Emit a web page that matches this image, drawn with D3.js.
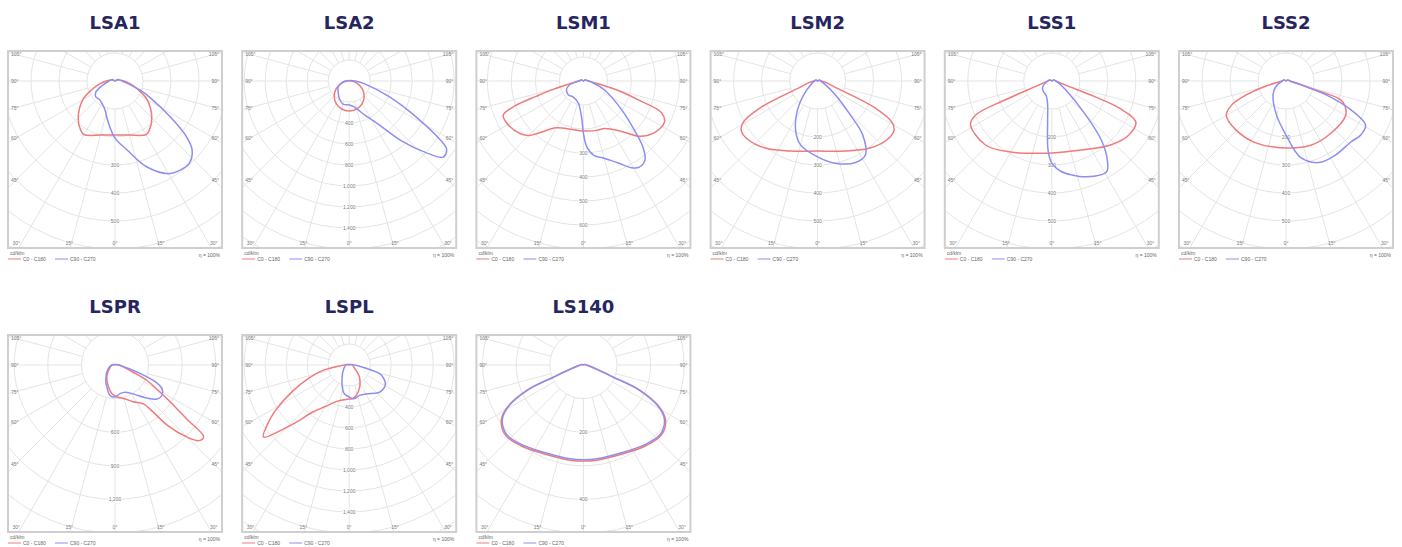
<!DOCTYPE html>
<html><head><meta charset="utf-8">
<script src="https://cdn.jsdelivr.net/npm/d3@7"></script>
<style>body{margin:0;background:#fff}</style>
</head><body><svg id="c" width="1402" height="547"></svg>
<script>
// ---------- data ----------
const chartNames = ["LSA1","LSA2","LSM1","LSM2","LSS1","LSS2","LSPR","LSPL","LS140"];
const maxValues  = [600,1600,700,600,600,600,1500,1600,500];
const ringSteps  = [100,200,100,100,100,100,300,200,100];
const valueLabels = [
  [300,400,500],
  [400,600,800,1000,1200,1400],
  [300,400,500,600],
  [200,300,400,500],
  [200,300,400,500],
  [200,300,400,500],
  [600,900,1200],
  [400,600,800,1000,1200,1400],
  [200,400]
];
const sideAngles = [105,90,75,60,45];
const bottomAngles = [-30,-15,0,15,30];
const legendNames = ["C0 - C180","C90 - C270"];
const unitLabel = "cd/klm";
const effLabel = "\u03b7 = 100%";

// [gamma angle (deg, 0 = down, + = right), intensity cd/klm]
const lsa1C0 = [[-180,0],[-120,7],[-100,18],[-90,32],[-80,54],[-70,86],[-60,132],[-45,186],[-35,214],[-30,221],[-15,200],[0,193],[15,200],[30,221],[35,214],[45,186],[60,132],[70,86],[80,54],[90,32],[100,18],[120,7]];
const lsa1C90 = [[-180,0],[-120,11],[-90,21],[-70,50],[-60,79],[-50,89],[-40,86],[-30,93],[-20,107],[-10,146],[0,204],[10,250],[20,325],[30,382],[35,393],[42,396],[48,371],[52,325],[57,236],[65,136],[70,96],[80,43],[90,25],[120,11]];
const lsa2C0 = [[-180,0],[-120,2],[-90,19],[-75,74],[-60,143],[-45,202],[-30,248],[-15,276],[0,286],[15,276],[30,248],[45,202],[60,143],[75,74],[90,19],[120,2]];
const lsa2C90 = [[-180,0],[-120,10],[-90,38],[-70,95],[-60,124],[-45,148],[-30,190],[-15,228],[0,228],[10,248],[17,286],[25,362],[33,476],[41,752],[47,1000],[51,1152],[55,1133],[58,971],[63,657],[67,476],[71,324],[80,143],[90,57],[120,10]];
const lsm1C0 = [[-180,0],[-120,8],[-90,21],[-78,63],[-74,146],[-72,208],[-70,304],[-67,363],[-60,363],[-50,342],[-45,321],[-41,288],[-30,225],[-15,208],[0,208],[15,213],[24,217],[37,263],[45,325],[53,363],[63,379],[68,350],[71,242],[74,167],[76,121],[80,58],[90,21],[120,8]];
const lsm1C90 = [[-180,0],[-120,8],[-90,17],[-74,61],[-62,80],[-47,85],[-32,79],[-13,94],[-3,150],[0,217],[3,275],[8,313],[15,333],[23,371],[29,413],[33,428],[38,417],[42,371],[46,296],[53,200],[67,96],[83,33],[90,21],[120,8]];
const lsm2C0 = [[-180,0],[-120,7],[-90,14],[-80,29],[-70,71],[-67,143],[-65,225],[-61,304],[-57,325],[-50,325],[-38,304],[-21,268],[0,250],[21,268],[38,304],[50,325],[57,325],[61,304],[65,225],[67,143],[70,71],[80,29],[90,14],[120,7]];
const lsm2C90 = [[-180,0],[-120,5],[-90,11],[-60,29],[-45,71],[-35,125],[-24,193],[-15,236],[0,271],[12,300],[25,321],[33,314],[40,250],[44,168],[52,82],[65,29],[90,11],[120,5]];
const lss1C0 = [[-180,0],[-120,7],[-90,14],[-72,54],[-68,179],[-66,296],[-62,329],[-46,329],[-30,293],[-9,261],[0,257],[23,268],[43,311],[55,336],[64,334],[68,264],[70,161],[73,54],[90,14],[120,7]];
const lss1C90 = [[-180,0],[-120,7],[-90,14],[-60,36],[-45,46],[-20,57],[-10,86],[-6,143],[-3,250],[0,293],[6,325],[12,343],[20,364],[31,379],[35,346],[40,275],[45,171],[57,61],[70,29],[90,14],[120,7]];
const lss2C0 = [[-180,0],[-120,7],[-90,14],[-76,71],[-70,161],[-66,214],[-60,246],[-46,250],[-26,246],[0,239],[21,246],[41,246],[60,246],[67,229],[71,207],[74,93],[80,36],[90,14],[120,7]];
const lss2C90 = [[-180,0],[-120,7],[-90,14],[-60,43],[-43,68],[-16,125],[0,193],[11,279],[22,314],[34,318],[47,318],[54,329],[61,325],[66,254],[71,150],[75,57],[90,14],[120,7]];
const lsprC0 = [[-180,0],[-120,9],[-90,27],[-68,45],[-36,125],[-18,196],[-6,259],[4,286],[16,313],[26,366],[36,429],[39,536],[41,714],[45,911],[48,1009],[51,1018],[53,804],[57,554],[60,429],[64,321],[68,179],[75,89],[90,36],[120,9]];
const lsprC90 = [[-180,0],[-120,9],[-90,27],[-60,71],[-33,152],[-18,223],[-9,277],[0,286],[10,259],[20,259],[32,304],[44,411],[51,482],[57,500],[63,473],[67,402],[70,286],[74,161],[80,71],[90,36],[120,9]];
const lsplC0 = [[-180,0],[-120,10],[-90,48],[-78,267],[-72,400],[-65,600],[-58,838],[-54,962],[-50,1067],[-46,886],[-42,714],[-38,571],[-30,457],[-18,362],[0,324],[5,324],[19,267],[40,152],[60,57],[90,29],[120,10]];
const lsplC90 = [[-180,0],[-120,10],[-90,29],[-60,57],[-27,152],[-10,276],[0,305],[8,324],[20,305],[32,324],[49,390],[62,390],[70,343],[74,305],[81,124],[90,48],[120,10]];
const ls140C0 = [[-180,0],[-120,3],[-90,9],[-80,18],[-72,45],[-68,95],[-66,182],[-61,259],[-56,295],[-48,312],[-38,304],[-24,289],[-8,286],[0,286],[8,286],[24,289],[38,304],[48,312],[56,295],[61,259],[66,182],[68,95],[72,45],[80,18],[90,9],[120,3]];
const ls140C90 = [[-180,0],[-120,3],[-90,9],[-80,17],[-72,43],[-68,92],[-66,178],[-61,255],[-56,291],[-48,308],[-38,300],[-24,285],[-8,282],[0,282],[8,282],[24,285],[38,300],[48,308],[56,291],[61,255],[66,178],[68,92],[72,43],[80,17],[90,9],[120,3]];

const c0Series  = [lsa1C0,lsa2C0,lsm1C0,lsm2C0,lss1C0,lss2C0,lsprC0,lsplC0,ls140C0];
const c90Series = [lsa1C90,lsa2C90,lsm1C90,lsm2C90,lss1C90,lss2C90,lsprC90,lsplC90,ls140C90];

// ---------- layout ----------
const boxW = 214, boxH = 197, colStep = 234.2, firstLeft = 8;
const rowTops = [51, 335];
const R = 168;             // pixel radius of maxValue
const centerDrop = 30;     // center below box top
const colors = {c0: "#f07a7a", c90: "#8e8ef2", grid: "#e4e4e4", frame: "#cfcfcf", tick: "#7a7a7a", title: "#27255f"};
const rad = d => d * Math.PI / 180;

const svg = d3.select("#c");
svg.append("rect").attr("width",1402).attr("height",547).attr("fill","#fff");

chartNames.forEach((name, i) => {
  const row = i < 6 ? 0 : 1, col = i < 6 ? i : i - 6;
  const left = firstLeft + col * colStep, top = rowTops[row];
  const cx = left + boxW / 2, cy = top + centerDrop;
  const rScale = d3.scaleLinear().domain([0, maxValues[i]]).range([0, R]);
  const g = svg.append("g");

  g.append("text").attr("x", cx).attr("y", top - 22)
    .attr("text-anchor","middle").attr("font-family","DejaVu Sans").attr("font-weight","bold")
    .attr("font-size",18).attr("fill",colors.title).text(name);

  const clipId = "clip" + i;
  svg.append("clipPath").attr("id", clipId).append("rect")
    .attr("x", left + 1).attr("y", top + 1).attr("width", boxW - 2).attr("height", boxH - 2);

  g.append("rect").attr("x", left).attr("y", top).attr("width", boxW).attr("height", boxH).attr("fill", "#fff");

  const grid = g.append("g").attr("clip-path", `url(#${clipId})`);
  const step = ringSteps[i];
  const rings = d3.range(step, maxValues[i] * 2.2, step);
  grid.selectAll("circle").data(rings).join("circle")
    .attr("cx", cx).attr("cy", cy).attr("r", d => rScale(d))
    .attr("fill","none").attr("stroke",colors.grid).attr("stroke-width",1);
  const rays = d3.range(-165, 181, 15);
  const r0 = rScale(step);
  grid.selectAll("line").data(rays).join("line")
    .attr("x1", a => cx + r0 * Math.sin(rad(a))).attr("y1", a => cy + r0 * Math.cos(rad(a)))
    .attr("x2", a => cx + 500 * Math.sin(rad(a))).attr("y2", a => cy + 500 * Math.cos(rad(a)))
    .attr("stroke",colors.grid).attr("stroke-width",1);

  // angle labels
  const font = "Liberation Sans";
  const sideDx = boxW / 2 - 8;
  sideAngles.forEach(a => {
    const y = cy + sideDx * Math.cos(rad(a)) / Math.sin(rad(a)) + 2;
    g.append("text").attr("x", left + 3).attr("y", y).attr("font-family",font).attr("font-size",5)
      .attr("fill",colors.tick).text(a + "\u00b0");
    g.append("text").attr("x", left + boxW - 3).attr("y", y).attr("text-anchor","end").attr("font-family",font).attr("font-size",5)
      .attr("fill",colors.tick).text(a + "\u00b0");
  });
  const bottomDy = boxH - centerDrop + 4;
  bottomAngles.forEach(a => {
    let x = cx + bottomDy * Math.tan(rad(a));
    x = Math.max(left + 8, Math.min(left + boxW - 8, x));
    g.append("text").attr("x", x).attr("y", top + boxH - 3).attr("text-anchor","middle")
      .attr("font-family",font).attr("font-size",5).attr("fill",colors.tick).text(Math.abs(a) + "\u00b0");
  });
  // value labels
  g.selectAll(".vl").data(valueLabels[i]).join("text")
    .attr("x", cx).attr("y", v => cy + rScale(v) + 2).attr("text-anchor","middle")
    .attr("font-family",font).attr("font-size",5).attr("fill",colors.tick)
    .attr("stroke","#fff").attr("stroke-width",2).attr("paint-order","stroke")
    .text(v => d3.format(",")(v));

  // curves
  const line = d3.lineRadial()
    .angle(d => Math.PI - rad(d[0]))
    .radius(d => rScale(d[1]))
    .curve(d3.curveCatmullRomClosed.alpha(0.5));
  const curves = g.append("g").attr("clip-path", `url(#${clipId})`)
    .append("g").attr("transform", `translate(${cx},${cy})`);
  curves.append("path").attr("d", line(c0Series[i])).attr("fill","none").attr("stroke",colors.c0).attr("stroke-width",1.5);
  curves.append("path").attr("d", line(c90Series[i])).attr("fill","none").attr("stroke",colors.c90).attr("stroke-width",1.5);

  // frame
  g.append("rect").attr("x", left).attr("y", top).attr("width", boxW).attr("height", boxH)
    .attr("fill","none").attr("stroke",colors.frame).attr("stroke-width",2);

  // legend
  const ly = top + boxH;
  g.append("text").attr("x", left + 2).attr("y", ly + 7).attr("font-family",font).attr("font-size",5).attr("fill","#666").text(unitLabel);
  const lcols = [colors.c0, colors.c90];
  legendNames.forEach((t, k) => {
    const x0 = left + k * 47;
    g.append("line").attr("x1", x0).attr("x2", x0 + 13).attr("y1", ly + 11).attr("y2", ly + 11)
      .attr("stroke", lcols[k]).attr("stroke-width",1);
    g.append("text").attr("x", x0 + 15).attr("y", ly + 13).attr("font-family",font).attr("font-size",5).attr("fill","#666").text(t);
  });
  g.append("text").attr("x", left + boxW - 2).attr("y", ly + 9).attr("text-anchor","end")
    .attr("font-family",font).attr("font-size",5).attr("fill","#666").text(effLabel);
});
</script></body></html>
